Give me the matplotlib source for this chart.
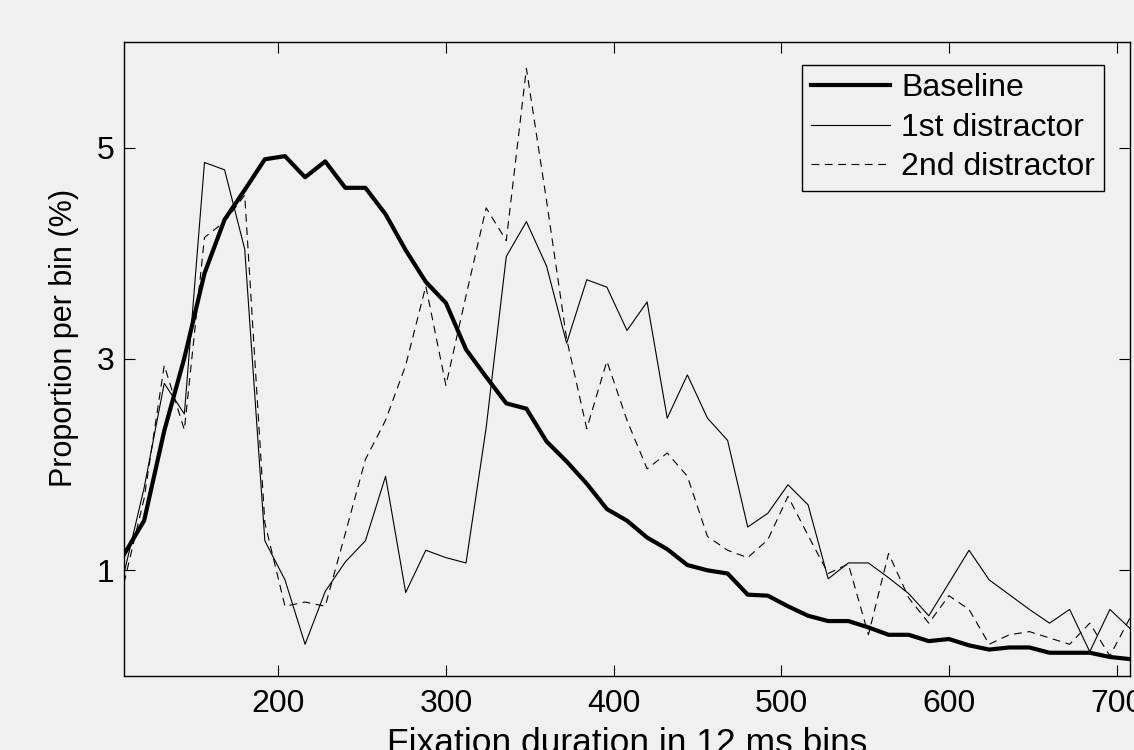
import matplotlib
matplotlib.use('Agg')
import matplotlib.pyplot as plt

# fixation duration bins (ms), 12 ms wide
bins = [108, 120, 132, 144, 156, 168, 180, 192, 204, 216, 228, 240, 252,
        264, 276, 288, 300, 312, 324, 336, 348, 360, 372, 384, 396, 408,
        420, 432, 444, 456, 468, 480, 492, 504, 516, 528, 540, 552, 564,
        576, 588, 600, 612, 624, 636, 648, 660, 672, 684, 696, 708]

baseline = [1.15, 1.47, 2.32, 3.01, 3.81, 4.32, 4.60, 4.89, 4.92, 4.72,
            4.87, 4.62, 4.62, 4.37, 4.03, 3.73, 3.53, 3.09, 2.83, 2.58,
            2.53, 2.22, 2.03, 1.82, 1.58, 1.47, 1.31, 1.20, 1.05, 1.00,
            0.97, 0.77, 0.76, 0.66, 0.57, 0.52, 0.52, 0.46, 0.39, 0.39,
            0.33, 0.35, 0.29, 0.25, 0.27, 0.27, 0.22, 0.22, 0.22, 0.18, 0.16]

distractor1 = [0.97, 1.78, 2.77, 2.48, 4.86, 4.79, 4.04, 1.28, 0.91, 0.30,
               0.80, 1.08, 1.28, 1.89, 0.79, 1.19, 1.12, 1.07, 2.35, 3.97,
               4.30, 3.88, 3.15, 3.75, 3.68, 3.27, 3.54, 2.44, 2.85, 2.44,
               2.23, 1.41, 1.54, 1.81, 1.62, 0.92, 1.07, 1.07, 0.93, 0.78,
               0.57, 0.88, 1.19, 0.91, 0.77, 0.63, 0.50, 0.63, 0.23, 0.63, 0.45]

distractor2 = [0.88, 1.68, 2.94, 2.33, 4.15, 4.30, 4.55, 1.45, 0.66, 0.70,
               0.66, 1.35, 2.05, 2.42, 2.94, 3.69, 2.75, 3.60, 4.43, 4.12,
               5.75, 4.50, 3.19, 2.34, 2.98, 2.42, 1.96, 2.11, 1.89, 1.32,
               1.19, 1.12, 1.29, 1.70, 1.33, 0.97, 1.06, 0.39, 1.16, 0.74,
               0.50, 0.76, 0.63, 0.30, 0.39, 0.42, 0.36, 0.30, 0.50, 0.19, 0.55]

x_ticks = [200, 300, 400, 500, 600, 700]
y_ticks = [1, 3, 5]

bg = '#f0f0f0'
plt.rcParams['font.family'] = ['Liberation Sans', 'DejaVu Sans']

fig = plt.figure(figsize=(11.34, 7.5), dpi=100, facecolor=bg)
ax = fig.add_axes([124 / 1134, 74 / 750, 1006 / 1134, 634 / 750])
ax.set_facecolor(bg)

ax.plot(bins, baseline, color='black', lw=3.0, label='Baseline')
ax.plot(bins, distractor1, color='black', lw=0.8, label='1st distractor')
ax.plot(bins, distractor2, color='black', lw=0.8, linestyle=(0, (7, 5)),
        label='2nd distractor')

ax.set_xlim(108, 708)
ax.set_ylim(0, 6)
ax.set_xticks(x_ticks)
ax.set_yticks(y_ticks)
ax.tick_params(direction='in', length=8, width=0.8, top=True, right=True,
               labelsize=23, color='black')
ax.tick_params(axis='x', pad=9)
ax.tick_params(axis='y', pad=7)
for s in ax.spines.values():
    s.set_linewidth(1.0)

ax.set_xlabel('Fixation duration in 12 ms bins', fontsize=25.5, labelpad=6)
ax.set_ylabel('Proportion per bin (%)', fontsize=22)
ax.yaxis.set_label_coords(-0.045, 0.534)

leg = ax.legend(loc='upper right', bbox_to_anchor=(0.974, 0.9645),
                borderaxespad=0, fancybox=False, framealpha=1,
                facecolor=bg, edgecolor='black', handlelength=2.5,
                handletextpad=0.33, labelspacing=0.29, borderpad=0.28,
                fontsize=23)
leg.get_frame().set_linewidth(1.0)

fig.savefig('out.png', dpi=100, facecolor=bg)
